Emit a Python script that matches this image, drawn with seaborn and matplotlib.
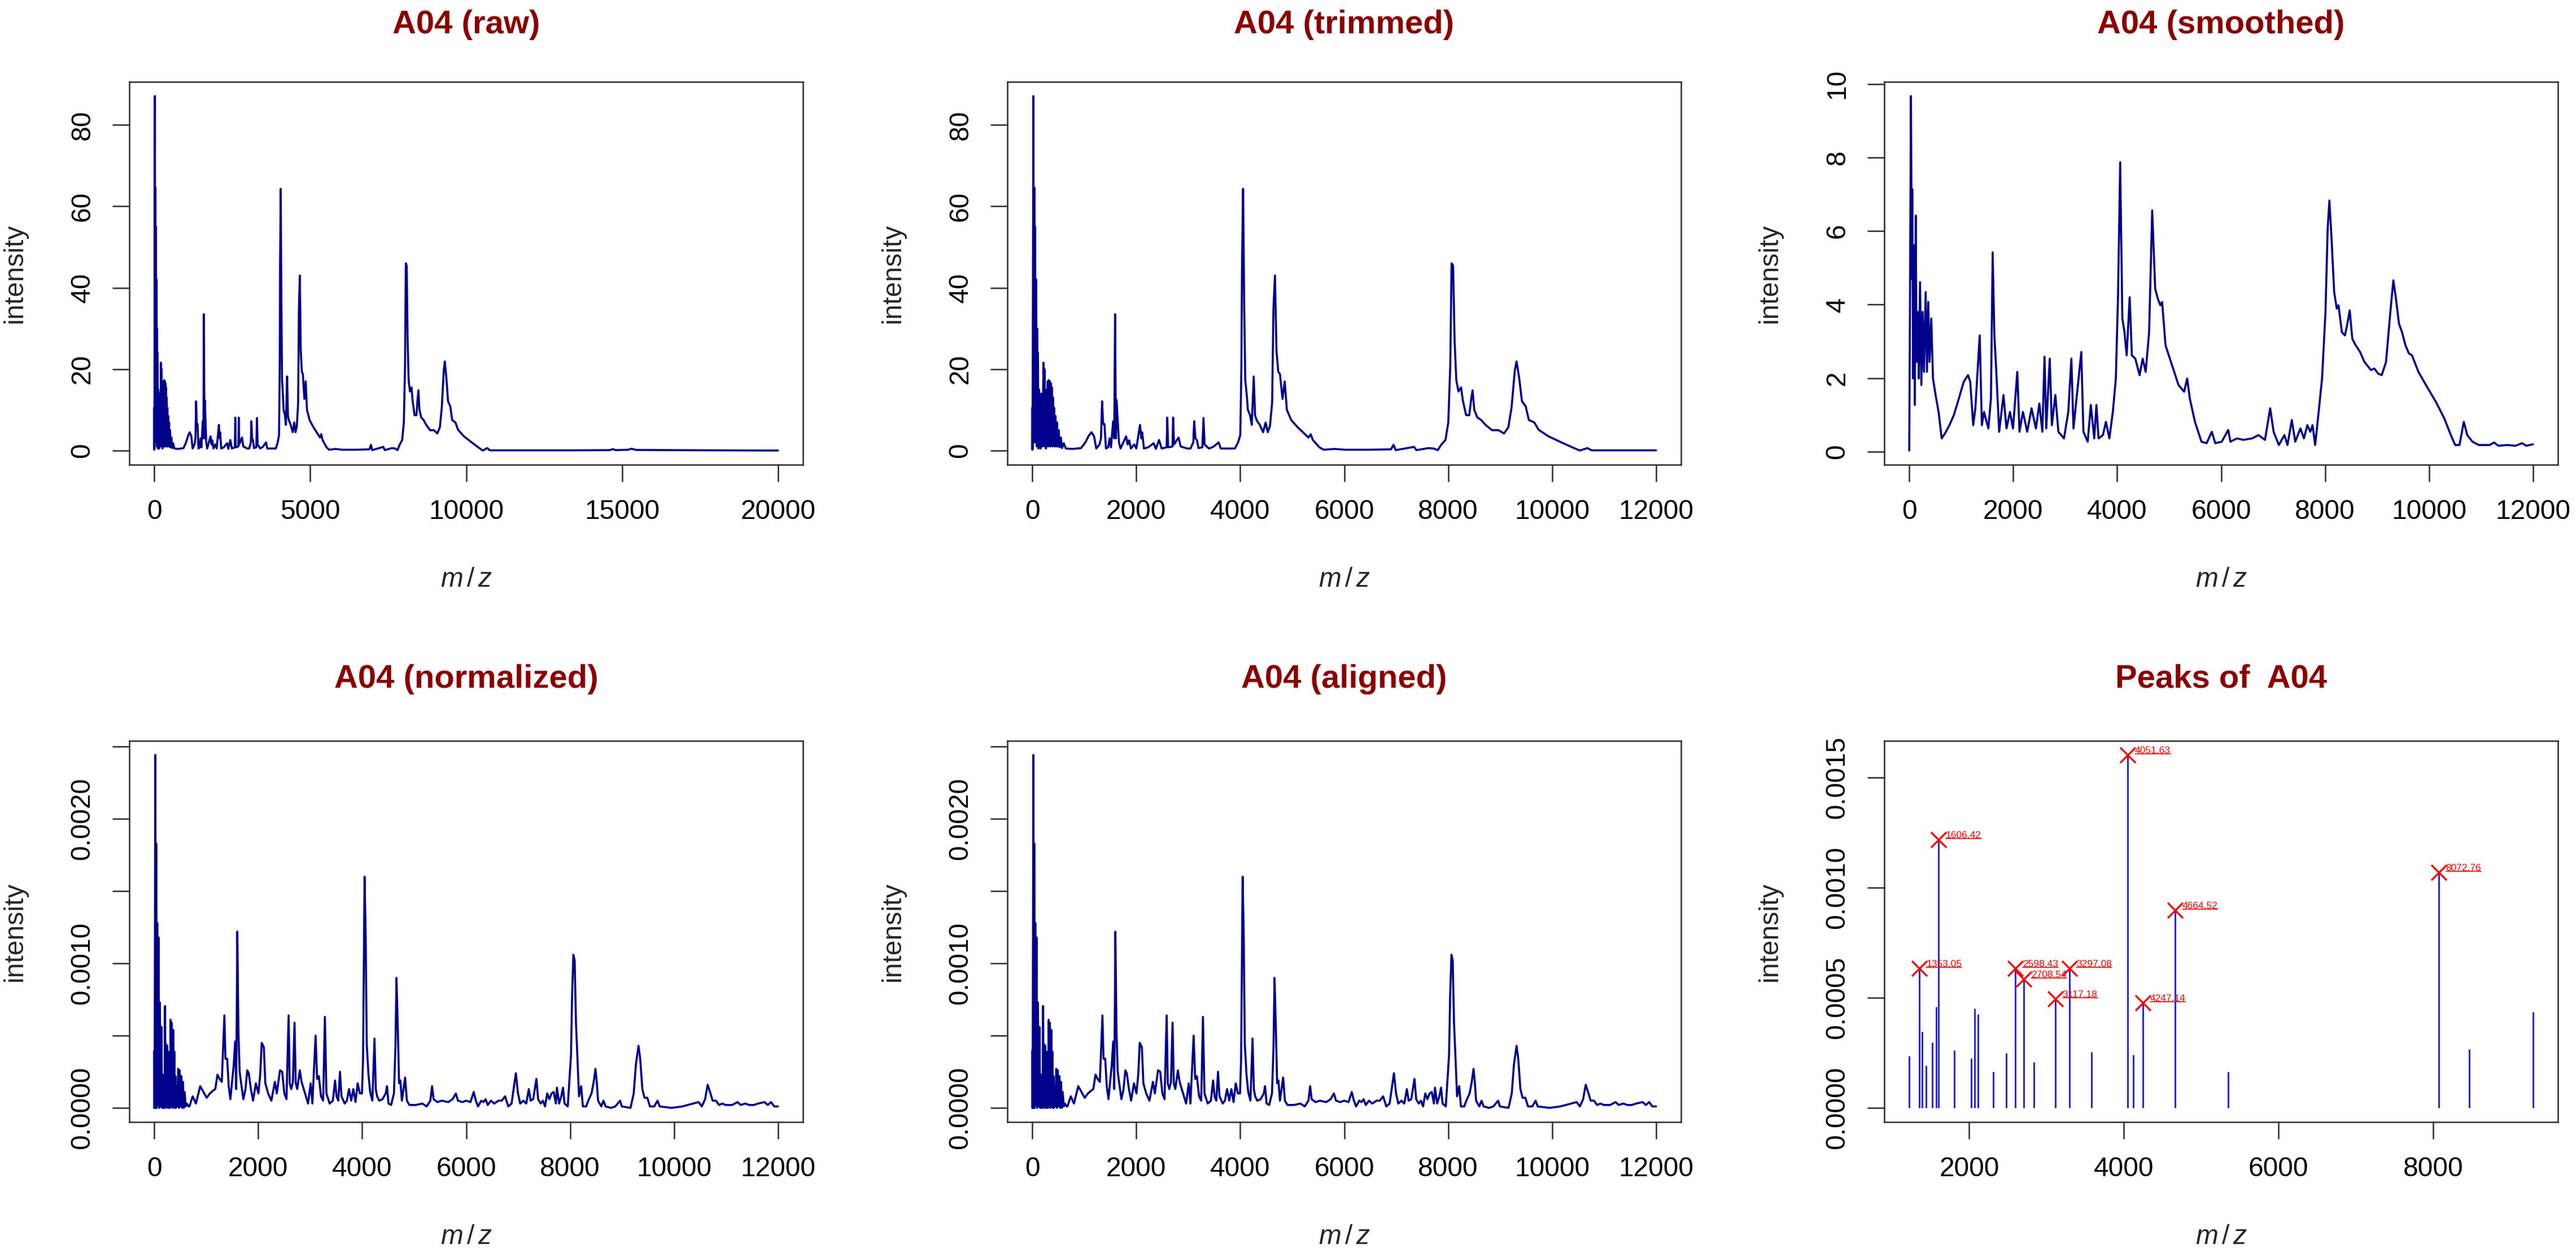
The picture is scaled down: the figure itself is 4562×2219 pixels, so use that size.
import numpy as np
import pandas as pd
import matplotlib
matplotlib.use("Agg")
import matplotlib.pyplot as plt
from matplotlib.lines import Line2D
from matplotlib.transforms import IdentityTransform
import seaborn as sns

# spectrum A04, values (m/z, intensity)
raw_pts = [(0, 0.2), (2, 10.6), (5, 0.3), (21, 87.1), (29, 5), (38, 64.6), (46, 2), (55, 55), (63, 3),
           (75, 42), (84, 1), (92, 30), (100, 2), (109, 24), (117, 0.5), (129, 15), (138, 1), (150, 12),
           (159, 0.5), (171, 14), (180, 2), (188, 9), (200, 1), (213, 21.6), (221, 3), (234, 20), (242, 1),
           (255, 13), (263, 0.5), (275, 15), (284, 2), (296, 17), (305, 1), (317, 17.3), (325, 2), (338, 17),
           (346, 1), (359, 16.5), (367, 2), (380, 15.5), (388, 1), (400, 13), (409, 2), (421, 10.5), (430, 1),
           (446, 8.5), (459, 1), (475, 6.9), (488, 1), (509, 5), (525, 0.8), (550, 3.2), (571, 0.6),
           (605, 1.8), (646, 0.5), (771, 0.4), (938, 0.6), (1021, 2), (1084, 3.6), (1138, 4.5), (1188, 3.5),
           (1230, 0.5), (1292, 1.5), (1321, 3), (1342, 12.1), (1363, 6.5), (1388, 6.5), (1417, 0.5),
           (1459, 0.8), (1488, 3), (1513, 0.8), (1555, 7.2), (1576, 3), (1592, 33.5), (1609, 3), (1621, 12.4),
           (1646, 6.6), (1667, 2), (1697, 0.5), (1805, 3.5), (1834, 1.5), (1863, 2.5), (1897, 0.5),
           (1959, 1.5), (2001, 0.5), (2072, 6.3), (2097, 3), (2113, 4.5), (2147, 0.5), (2230, 0.8),
           (2334, 1.8), (2376, 0.4), (2438, 2.6), (2488, 0.5), (2584, 0.8), (2597, 8.1), (2613, 0.8),
           (2697, 1), (2709, 8.1), (2726, 1.5), (2813, 3.2), (2855, 1), (2980, 0.5), (3043, 0.5), (3097, 2),
           (3114, 7.2), (3138, 3), (3168, 2.5), (3197, 0.6), (3272, 0.8), (3293, 8.0), (3314, 1.5),
           (3397, 0.5), (3480, 0.9), (3584, 2), (3626, 0.5), (3897, 0.5), (3959, 2), (4001, 3.8), (4022, 20),
           (4034, 45), (4055, 64.3), (4076, 36), (4097, 17.3), (4126, 13.6), (4147, 10), (4189, 8.7),
           (4222, 6.3), (4260, 18.2), (4285, 8.7), (4314, 7.5), (4376, 6.3), (4439, 4.5), (4489, 6.9),
           (4530, 4.5), (4572, 6), (4614, 11.8), (4639, 35), (4668, 43), (4697, 24.6), (4731, 19.4),
           (4764, 18.8), (4814, 12.7), (4856, 17), (4897, 10), (4981, 7.5), (5106, 5.7), (5231, 4.2),
           (5314, 3.2), (5356, 4), (5397, 2.6), (5522, 0.8), (5606, 0.2), (5814, 0.4), (6022, 0.2),
           (6500, 0.2), (6900, 0.3), (6949, 1.4), (6990, 0.1), (7345, 0.9), (7390, 0.1), (7620, 0.6),
           (7720, 0.5), (7800, 0.1), (7866, 1.4), (7949, 2.6), (8003, 6.9), (8041, 21), (8066, 46),
           (8095, 45.4), (8124, 27), (8157, 17.3), (8199, 14.5), (8249, 15.5), (8282, 12.4), (8345, 8.7),
           (8407, 8.7), (8441, 12.4), (8470, 14.8), (8503, 10), (8562, 8.1), (8637, 7.5), (8720, 6.3),
           (8845, 5.0), (8970, 5.0), (9074, 4.2), (9158, 5.7), (9220, 10.6), (9283, 19.7), (9316, 21.9),
           (9366, 17.9), (9420, 12.1), (9491, 10.9), (9553, 7.5), (9658, 6.9), (9741, 5.1), (9929, 3.5),
           (10179, 2.0), (10387, 0.8), (10533, 0.0), (10679, 0.6), (10762, 0.05), (11500, 0.05), (12000, 0.05)]
raw_tail_pts = [(12500, 0.05), (13500, 0.05), (14600, 0.1), (14700, 0.35), (14800, 0.1), (15200, 0.2),
                (15300, 0.45), (15450, 0.15), (16500, 0.1), (18000, 0.05), (20000, 0.0)]

smooth_pts = [(0, 0.03), (8, 2.17), (33, 9.67), (50, 4.70), (58, 7.14), (75, 1.99), (91, 5.61), (108, 1.27),
              (125, 6.42), (141, 2.44), (166, 3.80), (183, 1.99), (208, 4.61), (233, 1.81), (258, 3.80),
              (283, 2.17), (316, 4.34), (341, 2.17), (366, 4.07), (391, 2.44), (424, 3.62), (457, 1.99),
              (507, 1.54), (565, 1.08), (624, 0.36), (690, 0.50), (773, 0.72), (857, 0.99), (956, 1.45),
              (1048, 1.90), (1131, 2.08), (1173, 1.90), (1231, 0.72), (1272, 1.18), (1356, 3.16), (1397, 0.72),
              (1439, 1.08), (1522, 0.63), (1572, 1.45), (1605, 5.42), (1638, 3.16), (1672, 2.26), (1730, 0.54),
              (1813, 1.54), (1871, 0.63), (1938, 1.08), (1996, 0.63), (2079, 2.17), (2121, 0.54), (2187, 1.08),
              (2270, 0.54), (2353, 1.18), (2437, 0.63), (2503, 1.31), (2561, 0.54), (2603, 2.58), (2636, 0.63),
              (2703, 2.53), (2744, 0.72), (2811, 1.54), (2869, 0.54), (2977, 0.36), (3060, 1.08), (3119, 2.53),
              (3160, 0.63), (3310, 2.71), (3351, 0.54), (3434, 0.27), (3493, 1.27), (3559, 0.36), (3601, 1.27),
              (3642, 0.36), (3726, 0.45), (3784, 0.81), (3850, 0.36), (3917, 1.08), (3975, 1.99), (4017, 4.25),
              (4058, 7.87), (4100, 3.62), (4141, 3.25), (4183, 2.62), (4241, 4.20), (4283, 2.62), (4349, 2.53),
              (4432, 2.08), (4491, 2.53), (4549, 2.17), (4615, 3.25), (4674, 6.56), (4732, 4.43), (4782, 4.16),
              (4832, 3.98), (4865, 4.07), (4931, 2.89), (5056, 2.35), (5181, 1.81), (5289, 1.63), (5347, 1.99),
              (5397, 1.45), (5497, 0.81), (5622, 0.27), (5721, 0.23), (5821, 0.54), (5888, 0.23), (6012, 0.27),
              (6137, 0.59), (6179, 0.27), (6304, 0.36), (6428, 0.32), (6595, 0.36), (6719, 0.45), (6844, 0.32),
              (6944, 1.18), (7010, 0.54), (7110, 0.18), (7218, 0.45), (7277, 0.18), (7360, 0.86), (7426, 0.27),
              (7526, 0.63), (7593, 0.36), (7659, 0.72), (7717, 0.54), (7759, 0.72), (7809, 0.18), (7884, 1.18),
              (7942, 1.99), (8008, 3.80), (8050, 6.06), (8083, 6.83), (8125, 5.79), (8175, 4.34), (8225, 3.89),
              (8258, 3.98), (8324, 3.25), (8382, 3.16), (8424, 3.44), (8474, 3.84), (8524, 3.07), (8590, 2.89),
              (8674, 2.71), (8757, 2.44), (8882, 2.22), (8948, 2.26), (9023, 2.12), (9090, 2.08), (9173, 2.44),
              (9256, 3.80), (9314, 4.66), (9364, 4.16), (9422, 3.48), (9480, 3.25), (9547, 2.89), (9613, 2.67),
              (9672, 2.62), (9796, 2.17), (9962, 1.76), (10129, 1.36), (10295, 0.90), (10420, 0.45),
              (10503, 0.18), (10586, 0.18), (10669, 0.81), (10736, 0.45), (10836, 0.27), (10960, 0.18),
              (11168, 0.18), (11251, 0.25), (11334, 0.16), (11501, 0.18), (11667, 0.16), (11789, 0.23),
              (11872, 0.16), (12000, 0.20)]

norm_pts = [(0, 0.0), (2, 0.000397), (6, 0.0), (21, 0.002443), (29, 0.0), (37, 0.00183), (46, 0.0),
            (58, 0.00128), (70, 0.00002), (83, 0.00118), (95, 0.0), (108, 0.00073), (122, 0.00001),
            (137, 0.00056), (150, 0.0), (166, 0.00023), (176, 0.0), (187, 0.00015), (197, 0.0), (208, 0.000705),
            (218, 0.00002), (228, 0.00044), (238, 0.0), (249, 0.00043), (260, 0.00001), (270, 0.00039),
            (280, 0.0), (291, 0.00016), (303, 0.0), (315, 0.00061), (325, 0.00002), (336, 0.00059), (350, 0.0),
            (365, 0.00054), (375, 0.00001), (386, 0.00039), (396, 0.0), (407, 0.00022), (417, 0.0),
            (427, 0.00015), (444, 0.00001), (461, 0.00027), (475, 0.0), (490, 0.00026), (506, 0.00001),
            (523, 0.00022), (537, 0.0), (552, 0.00018), (568, 0.0), (585, 0.00011), (606, 0.00001),
            (627, 0.00003), (660, 0.00001), (676, 0.00001), (739, 0.00008), (801, 0.00003), (884, 0.00015),
            (946, 0.00011), (1008, 0.00007), (1071, 0.0001), (1133, 0.00012), (1174, 0.00013), (1216, 0.00023),
            (1257, 0.0002), (1299, 0.00018), (1349, 0.00064), (1370, 0.00034), (1403, 0.00034), (1432, 0.00015),
            (1465, 0.00006), (1494, 0.00017), (1527, 0.00029), (1556, 0.00046), (1577, 0.00013), (1598, 0.00122),
            (1619, 0.00053), (1643, 0.00025), (1672, 0.00017), (1714, 0.00006), (1755, 0.00013), (1789, 0.00026),
            (1818, 0.00024), (1859, 0.00013), (1901, 0.00005), (1955, 0.00017), (2004, 0.0001), (2038, 0.00023),
            (2067, 0.00045), (2108, 0.00042), (2137, 0.00017), (2191, 0.0001), (2253, 0.00005), (2320, 0.00018),
            (2357, 0.0001), (2419, 0.00026), (2461, 0.00025), (2502, 0.0001), (2544, 0.00006), (2585, 0.00064),
            (2606, 0.00017), (2635, 0.00013), (2668, 0.00018), (2698, 0.00059), (2722, 0.00017), (2751, 0.00013),
            (2801, 0.00026), (2834, 0.00018), (2876, 0.00013), (2917, 0.00008), (2959, 0.00003), (3009, 0.00017),
            (3042, 0.00003), (3104, 0.0005), (3133, 0.0002), (3166, 0.00022), (3208, 0.00008), (3249, 0.00005),
            (3283, 0.00063), (3312, 0.0001), (3374, 0.00003), (3436, 0.00005), (3478, 0.00019), (3507, 0.00008),
            (3540, 0.00005), (3573, 0.00025), (3602, 0.00008), (3664, 0.00003), (3706, 0.00005), (3747, 0.00013),
            (3789, 0.00005), (3830, 0.00013), (3872, 0.00004), (3913, 0.00017), (3955, 0.0001), (3996, 0.0001),
            (4017, 0.00034), (4046, 0.0016), (4067, 0.00119), (4088, 0.00044), (4121, 0.00023), (4154, 0.00011),
            (4196, 0.00005), (4237, 0.00048), (4262, 0.00013), (4287, 0.00008), (4328, 0.00005), (4391, 0.00006),
            (4453, 0.0001), (4478, 0.00015), (4507, 0.00003), (4557, 0.00002), (4611, 0.0001), (4640, 0.00042),
            (4660, 0.0009), (4685, 0.00056), (4710, 0.00017), (4735, 0.00019), (4764, 0.00005), (4826, 0.00021),
            (4860, 0.00005), (4909, 0.00002), (5034, 0.00002), (5158, 0.00003), (5241, 0.00001), (5312, 0.00005),
            (5345, 0.00015), (5374, 0.00006), (5449, 0.00004), (5532, 0.00005), (5656, 0.00004), (5739, 0.00006),
            (5802, 0.0001), (5843, 0.00005), (5926, 0.00004), (6000, 0.00005), (6083, 0.00004), (6146, 0.00011),
            (6187, 0.00005), (6229, 0.00001), (6291, 0.00005), (6333, 0.00004), (6374, 0.00006), (6416, 0.00002),
            (6478, 0.00005), (6541, 0.00003), (6624, 0.00005), (6686, 0.00005), (6749, 0.00008), (6811, 0.00001),
            (6874, 0.00003), (6957, 0.00024), (6998, 0.0001), (7040, 0.00003), (7102, 0.00005), (7156, 0.00003),
            (7206, 0.00013), (7240, 0.00005), (7290, 0.00006), (7352, 0.0002), (7385, 0.00006), (7435, 0.00003),
            (7477, 0.00005), (7518, 0.00001), (7560, 0.0001), (7602, 0.00006), (7643, 0.0001), (7685, 0.00011),
            (7726, 0.00003), (7747, 0.00014), (7789, 0.00003), (7830, 0.00008), (7864, 0.00014), (7893, 0.00003),
            (7955, 0.00001), (8018, 0.00037), (8038, 0.00077), (8063, 0.00106), (8088, 0.00102), (8113, 0.00059),
            (8142, 0.00034), (8172, 0.00008), (8213, 0.00015), (8246, 0.00001), (8309, 0.00001), (8350, 0.00005),
            (8413, 0.0001), (8454, 0.00018), (8488, 0.00027), (8513, 0.00018), (8538, 0.00005), (8600, 0.00001),
            (8642, 0.00005), (8683, 0.00001), (8787, 0.0), (8870, 0.00001), (8962, 0.00005), (8995, 0.00001),
            (9162, 0.0), (9224, 0.0001), (9266, 0.0003), (9316, 0.00043), (9349, 0.00034), (9390, 0.00013),
            (9432, 0.00007), (9486, 0.00007), (9536, 0.00001), (9619, 0.00001), (9682, 0.00005), (9723, 0.00001),
            (9952, 0.0), (10160, 0.00001), (10368, 0.00003), (10472, 0.00004), (10534, 0.00001), (10597, 0.00006),
            (10647, 0.00016), (10701, 0.0001), (10742, 0.00005), (10805, 0.00005), (10867, 0.00002),
            (10930, 0.00003), (10992, 0.00002), (11117, 0.00002), (11221, 0.00004), (11283, 0.00002),
            (11366, 0.00003), (11450, 0.00002), (11533, 0.00002), (11616, 0.00003), (11741, 0.00004),
            (11803, 0.00002), (11866, 0.00004), (11928, 0.00001), (12000, 0.00001)]

peak_mz = [1225, 1353.05, 1395, 1442, 1524, 1572, 1606.42, 1810, 2027, 2068, 2116, 2313, 2476, 2598.43,
           2708.54, 2836, 3117.18, 3297.08, 3584, 4051.63, 4122, 4247.14, 4664.52, 5346, 8072.76, 8467, 9290]
peak_int = [0.000235, 0.000634, 0.000345, 0.000193, 0.000297, 0.000459, 0.001219, 0.000261, 0.000226,
            0.000451, 0.000425, 0.000163, 0.000250, 0.000634, 0.000584, 0.000208, 0.000495, 0.000634,
            0.000255, 0.001603, 0.000240, 0.000477, 0.000898, 0.000163, 0.001070, 0.000267, 0.000435]
label_mz = [1353.05, 1606.42, 2598.43, 2708.54, 3117.18, 3297.08, 4051.63, 4247.14, 4664.52, 8072.76]

titles = ["A04 (raw)", "A04 (trimmed)", "A04 (smoothed)", "A04 (normalized)", "A04 (aligned)", "Peaks of  A04"]

raw = pd.DataFrame(raw_pts + raw_tail_pts, columns=["mz", "intensity"])
trimmed = pd.DataFrame(raw_pts, columns=["mz", "intensity"])
smoothed = pd.DataFrame(smooth_pts, columns=["mz", "intensity"])
normalized = pd.DataFrame(norm_pts, columns=["mz", "intensity"])
peaks = pd.DataFrame({"mz": peak_mz, "intensity": peak_int})
labelled = peaks[peaks["mz"].isin(label_mz)]

sns.set_style("ticks")
plt.rcParams["font.family"] = ["Liberation Sans", "DejaVu Sans"]
plt.rcParams["mathtext.fontset"] = "custom"
plt.rcParams["mathtext.rm"] = "Liberation Sans"
plt.rcParams["mathtext.it"] = "Liberation Sans:italic"

LINE = "#00008B"
TITLE = "#8B0000"
W, H = 4562, 2219
fig = plt.figure(figsize=(W / 100, H / 100), dpi=100)
fig.patch.set_facecolor("white")

col_left = [229, 1784, 3337]
box_w = 1193
rows = [(145, 823, 62), (1312, 1987, 68)]   # top px, bottom px, title pad (pt)


def r_range(lo, hi):
    # R default: 4% extension on each side
    pad = 0.04 * (hi - lo)
    return lo - pad, hi + pad


def make_ax(col, row):
    top, bot, tpad = rows[row]
    ax = fig.add_axes([col_left[col] / W, 1 - bot / H, box_w / W, (bot - top) / H])
    ax.set_title(titles[row * 3 + col], color=TITLE, fontweight="bold", fontsize=41.8, pad=tpad)
    for s in ax.spines.values():
        s.set_linewidth(1.8)
        s.set_color("#2b2b2b")
        s.set_visible(True)
    ax.tick_params(direction="out", length=21.6, width=1.8, color="#2b2b2b", pad=22,
                   labelsize=34.5, labelcolor="black")
    return ax


def axis_labels(ax, row):
    top, bot, _ = rows[row]
    ax.set_xlabel(r"$m\,/\,z$", fontsize=34.5)
    ax.xaxis.set_label_coords(0.5, -181 / (bot - top))
    ax.set_ylabel("intensity", fontsize=34.5)
    ax.yaxis.set_label_coords(-180 / box_w, 0.5)


def set_ticks(ax, xticks, yticks, ylabels=None):
    ax.set_xticks(xticks, labels=[str(t) for t in xticks])
    if ylabels is None:
        ylabels = [str(t) for t in yticks]
    ax.set_yticks(yticks, labels=ylabels)
    for lab in ax.get_yticklabels():
        lab.set_rotation(90)
        lab.set_va("center")


def spectrum(ax, df, row):
    sns.lineplot(data=df, x="mz", y="intensity", ax=ax, color=LINE, linewidth=2.6,
                 estimator=None, sort=False)
    ax.set_xlim(*r_range(df["mz"].min(), df["mz"].max()))
    ax.set_ylim(*r_range(df["intensity"].min(), df["intensity"].max()))
    axis_labels(ax, row)


x12 = [0, 2000, 4000, 6000, 8000, 10000, 12000]
norm_y = [0, 0.0005, 0.001, 0.0015, 0.002, 0.0025]
norm_lab = ["0.0000", "", "0.0010", "", "0.0020", ""]

ax = make_ax(0, 0)
spectrum(ax, raw, 0)
set_ticks(ax, [0, 5000, 10000, 15000, 20000], [0, 20, 40, 60, 80])

ax = make_ax(1, 0)
spectrum(ax, trimmed, 0)
set_ticks(ax, x12, [0, 20, 40, 60, 80])

ax = make_ax(2, 0)
spectrum(ax, smoothed, 0)
set_ticks(ax, x12, [0, 2, 4, 6, 8, 10])

ax = make_ax(0, 1)
spectrum(ax, normalized, 1)
set_ticks(ax, x12, norm_y, norm_lab)

ax = make_ax(1, 1)
spectrum(ax, normalized, 1)
set_ticks(ax, x12, norm_y, norm_lab)

ax = make_ax(2, 1)
ax.vlines(peaks["mz"], 0, peaks["intensity"], color="#2a2ad0", linewidth=2.2)
sns.scatterplot(data=labelled, x="mz", y="intensity", ax=ax, marker="x", s=380, color="red",
                linewidth=2.4, zorder=3)
peak_texts = []
for mz, inten in zip(labelled["mz"], labelled["intensity"]):
    t = ax.annotate("%.2f" % mz, xy=(mz, inten), xytext=(9, 0), textcoords="offset points",
                    fontsize=12.5, color="red", ha="left", va="bottom")
    peak_texts.append(t)
ax.set_xlim(*r_range(peaks["mz"].min(), peaks["mz"].max()))
ax.set_ylim(*r_range(0, peaks["intensity"].max()))
axis_labels(ax, 1)
set_ticks(ax, [2000, 4000, 6000, 8000], [0, 0.0005, 0.001, 0.0015],
          ["0.0000", "0.0005", "0.0010", "0.0015"])

# labelPeaks-style underline below each peak label
fig.canvas.draw()
for t in peak_texts:
    bb = t.get_window_extent()
    fig.add_artist(Line2D([bb.x0, bb.x1], [bb.y0 + 2, bb.y0 + 2], color="red", linewidth=1.2,
                          transform=IdentityTransform()))

fig.savefig("out.png", dpi=100, facecolor="white")
